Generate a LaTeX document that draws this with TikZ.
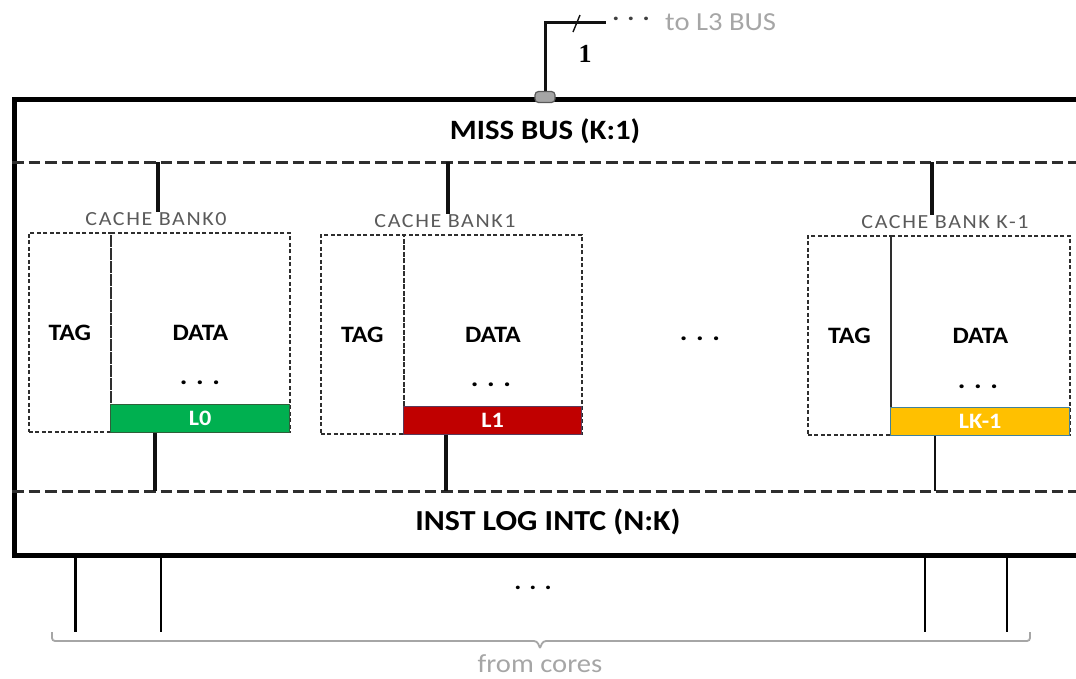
\documentclass[tikz,border=0pt]{standalone}
\usepackage{fontspec}
\setmainfont{Carlito}[FakeStretch=1.1]
\newfontfamily\banklabelfont{Carlito}[FakeStretch=1.1,LetterSpace=8]
\newfontfamily\numfont{Liberation Serif}
\usetikzlibrary{calc}

\definecolor{busgray}{HTML}{A6A6A6}
\definecolor{labelgray}{HTML}{5A5A5A}
\definecolor{lineblack}{HTML}{111111}
\definecolor{dashgray}{HTML}{2E2E2E}
\definecolor{portfill}{HTML}{A5A5A5}
\definecolor{portedge}{HTML}{595959}
\definecolor{bargreen}{HTML}{00B050}
\definecolor{bargreenedge}{HTML}{2F5F3A}
\definecolor{barred}{HTML}{C00000}
\definecolor{barrededge}{HTML}{5A3A5A}
\definecolor{baryellow}{HTML}{FFC000}
\definecolor{baryellowedge}{HTML}{41819C}

\tikzset{
  outerbox/.style={draw=black,line width=4.5pt,minimum width=1100pt,minimum height=456pt,
    anchor=north west,inner sep=0pt},
  sepline/.style={draw=dashgray,line width=3pt,dash pattern=on 11.5pt off 5pt},
  bankbox/.style={draw=dashgray,line width=1.8pt,dash pattern=on 4pt off 2.5pt,
    anchor=north west,inner sep=0pt,minimum height=199pt},
  cachebar/.style={anchor=south west,inner sep=0pt,minimum height=28pt,line width=1.2pt,
    text=white,font=\fontsize{22}{22}\selectfont\bfseries},
  stub/.style={draw=lineblack,line width=3.2pt},
  wire/.style={draw=lineblack,line width=3pt},
  coreline/.style={draw=black,line width=2pt},
  bracket/.style={draw=busgray,line width=1.8pt,rounded corners=3pt},
  bigtitle/.style={font=\fontsize{28}{28}\selectfont\bfseries},
  celltext/.style={font=\fontsize{23.5}{23.5}\selectfont\bfseries},
  dotsnode/.style={font=\fontsize{26}{26}\selectfont\bfseries,inner sep=0pt},
  banklabel/.style={font=\banklabelfont\fontsize{20}{20}\selectfont,text=labelgray,inner sep=0pt},
  graytext/.style={font=\fontsize{26}{26}\selectfont,text=busgray,inner sep=0pt},
  port/.style={draw=portedge,fill=portfill,line width=1.2pt,rounded corners=3.5pt,
    minimum width=20pt,minimum height=11pt,inner sep=0pt}
}

\begin{document}
\begin{tikzpicture}[x=1pt,y=-1pt]
\useasboundingbox (0,0) rectangle (1076,678);
\clip (0,0) rectangle (1076,678);

% cache tile frame (runs past the right border)
\node[outerbox] (tile) at (12,97) {};

% horizontal dashed separators
\coordinate (sepAl) at (12,162);
\coordinate (sepAr) at (1100,162);
\coordinate (sepBl) at (12,491);
\coordinate (sepBr) at (1100,491);
\draw[sepline] (sepAl) -- (sepAr);
\draw[sepline] (sepBl) -- (sepBr);

% titles of the two interconnects
\node[bigtitle] (missbus) at (545,131) {MISS BUS (K:1)};
\node[bigtitle,font=\fontsize{29}{29}\selectfont\bfseries] (instlog) at (548,522) {INST LOG INTC (N:K)};

% port towards the L3 bus
\coordinate (bend) at (545,22);
\coordinate (l3end) at (606,22);
\draw[wire] (tile.north west -| bend) -- (bend) -- (l3end);
\node[port] (l3port) at (545,97) {};
\draw[draw=lineblack,line width=1.4pt] (573,32) -- (580,15);
\node[font=\numfont\fontsize{26}{26}\selectfont\bfseries,inner sep=0pt] (width) at (585,54) {1};
\node[font=\fontsize{24}{24}\selectfont\bfseries,text=black!75,inner sep=0pt] (l3dots) at (631,19) {.\,\,.\,\,.};
\node[graytext,anchor=west] (l3label) at (665,22) {to L3 BUS};

% ---- cache bank 0 ----
\node[bankbox,minimum width=82pt] (tag0) at (28,232) {};
\node[bankbox,minimum width=179pt] (data0) at (110,232) {};
\node[celltext] at (tag0.center) {TAG};
\node[celltext] at (data0.center) {DATA};
\node[dotsnode] (dots0) at (200,383) {.\,\,.\,\,.};
\node[cachebar,fill=bargreen,draw=bargreenedge,minimum width=179pt] (bar0) at (data0.south west) {L0};
\node[banklabel] (lab0) at (156,219) {CACHE BANK0};
\coordinate (m0) at (158,162);
\coordinate (i0) at (155,491);
\draw[stub] (m0) -- (m0 |- lab0.north);
\draw[stub] (bar0.south -| i0) -- (i0);

% ---- cache bank 1 ----
\node[bankbox,minimum width=83pt] (tag1) at (320,234) {};
\node[bankbox,minimum width=178pt] (data1) at (403,234) {};
\node[celltext] at (tag1.center) {TAG};
\node[celltext] at (data1.center) {DATA};
\node[dotsnode] (dots1) at (491,385) {.\,\,.\,\,.};
\node[cachebar,fill=barred,draw=barrededge,minimum width=178pt] (bar1) at (data1.south west) {L1};
\node[banklabel] (lab1) at (445,221) {CACHE BANK1};
\coordinate (m1) at (448,162);
\coordinate (i1) at (446,491);
\draw[stub] (m1) -- (m1 |- lab1.north);
\draw[stub] (bar1.south -| i1) -- (i1);

% gap between bank 1 and bank K-1
\node[dotsnode] (midots) at (700,339) {.\,\,.\,\,.};

% ---- cache bank K-1 ----
\node[bankbox,minimum width=83pt] (tagk) at (807,235) {};
\node[bankbox,minimum width=179pt] (datak) at (890,235) {};
\node[celltext] at (tagk.center) {TAG};
\node[celltext] at (datak.center) {DATA};
\node[dotsnode] (dotsk) at (978,387) {.\,\,.\,\,.};
\node[cachebar,fill=baryellow,draw=baryellowedge,minimum width=179pt] (bark) at (datak.south west) {LK-1};
\node[banklabel] (labk) at (945,222) {CACHE BANK K-1};
\coordinate (mk) at (932,162);
\coordinate (ik) at (935,491);
\draw[stub] (mk) -- (mk |- labk.north);
\draw[stub,line width=2.4pt] (bark.south -| ik) -- (ik);

% core request lines
\coordinate (core1) at (75,632);
\coordinate (core2) at (161,632);
\coordinate (core3) at (925,632);
\coordinate (core4) at (1007,632);
\draw[coreline,line width=3pt] (core1 |- tile.south) -- (core1);
\draw[coreline,line width=2pt] (core2 |- tile.south) -- (core2);
\draw[coreline,line width=2pt] (core3 |- tile.south) -- (core3);
\draw[coreline,line width=2.6pt] (core4 |- tile.south) -- (core4);
\node[font=\fontsize{24}{24}\selectfont\bfseries,inner sep=0pt] (coredots) at (533,588) {.\,\,.\,\,.};

% bracket grouping the cores
\coordinate (brl) at (52,632);
\coordinate (brm) at (540,648);
\coordinate (brr) at (1030,632);
\draw[bracket] (brl) -- (brl |- 0,641) -- (537,641) -- (brm);
\draw[bracket] (brm) -- (543,641) -- (brr |- 0,641) -- (brr);
\node[graytext] (cores) at (540,664) {from cores};
\end{tikzpicture}
\end{document}
